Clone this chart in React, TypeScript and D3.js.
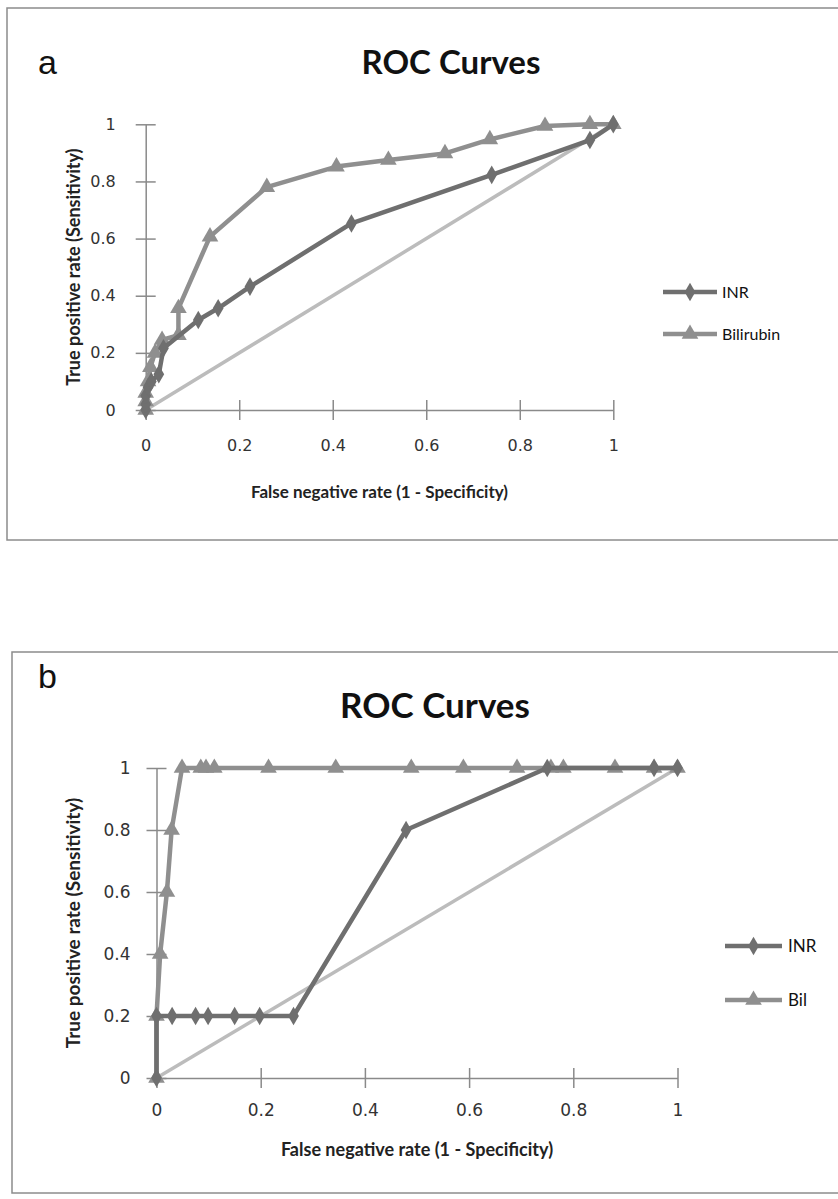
import React, { useEffect, useRef } from "react";
import * as d3 from "d3";

// shared ticks
const tickValues = [0, 0.2, 0.4, 0.6, 0.8, 1];
const tickLabels = ["0", "0.2", "0.4", "0.6", "0.8", "1"];

// panel a
const aInrFpr = [0, 0, 0, 0.005, 0.012, 0.028, 0.038, 0.1125, 0.155, 0.223, 0.44, 0.74, 0.95, 1];
const aInrTpr = [0, 0.02, 0.05, 0.08, 0.1, 0.125, 0.216, 0.315, 0.356, 0.432, 0.653, 0.823, 0.945, 1];
const aBilFpr = [0, 0, 0, 0.005, 0.01, 0.02, 0.035, 0.07, 0.07, 0.1375, 0.259, 0.408, 0.519, 0.64, 0.736, 0.854, 0.95, 1];
const aBilTpr = [0, 0.03, 0.06, 0.1, 0.15, 0.2, 0.245, 0.262, 0.356, 0.607, 0.78, 0.852, 0.875, 0.898, 0.947, 0.994, 1, 1];

// panel b
const bInrFpr = [0, 0, 0.03, 0.075, 0.099, 0.15, 0.198, 0.263, 0.479, 0.75, 0.955, 1];
const bInrTpr = [0, 0.2, 0.2, 0.2, 0.2, 0.2, 0.2, 0.2, 0.8, 1, 1, 1];
const bBilFpr = [0, 0, 0.007, 0.02, 0.029, 0.049, 0.085, 0.095, 0.111, 0.215, 0.344, 0.489, 0.589, 0.692, 0.757, 0.781, 0.88, 0.955, 1];
const bBilTpr = [0, 0.2, 0.4, 0.6, 0.8, 1, 1, 1, 1, 1, 1, 1, 1, 1, 1, 1, 1, 1, 1];

const INR_COLOR = "#6f6f6f";
const BIL_COLOR = "#8f8f8f";
const DIAG_COLOR = "#bcbcbc";
const AXIS_COLOR = "#8a8a8a";

const zip = (xs, ys) => xs.map((x, i) => ({ x, y: ys[i] }));

const panels = [
  {
    letter: "a",
    frame: { x: 7, y: 8, w: 900, h: 532 },
    plot: { left: 145.7, right: 613.3, top: 124.3, bottom: 410 },
    title: { x: 451, y: 74, size: 33 },
    letterPos: { x: 38, y: 74 },
    yTitleX: 80,
    xTitleY: 498,
    font: 16,
    pad: 20,
    xTitle: 17,
    yTitle: 18,
    legendFont: 16,
    legend: { x1: 663, x2: 717, tx: 722, y: [292, 334] },
    series: [
      { name: "INR", data: zip(aInrFpr, aInrTpr), color: INR_COLOR, shape: d3.symbolDiamond },
      { name: "Bilirubin", data: zip(aBilFpr, aBilTpr), color: BIL_COLOR, shape: d3.symbolTriangle }
    ]
  },
  {
    letter: "b",
    frame: { x: 12, y: 652, w: 900, h: 541 },
    plot: { left: 156.5, right: 677.5, top: 768, bottom: 1078 },
    title: { x: 435, y: 718, size: 35 },
    letterPos: { x: 38, y: 688 },
    yTitleX: 80,
    xTitleY: 1156,
    font: 17,
    pad: 16,
    xTitle: 18,
    yTitle: 19,
    legendFont: 17,
    legend: { x1: 725, x2: 782, tx: 788, y: [946, 1000] },
    series: [
      { name: "INR", data: zip(bInrFpr, bInrTpr), color: INR_COLOR, shape: d3.symbolDiamond },
      { name: "Bil", data: zip(bBilFpr, bBilTpr), color: BIL_COLOR, shape: d3.symbolTriangle }
    ]
  }
];

function drawPanel(svg, p) {
  const g = svg.append("g");

  g.append("rect")
    .attr("x", p.frame.x)
    .attr("y", p.frame.y)
    .attr("width", p.frame.w)
    .attr("height", p.frame.h)
    .attr("fill", "white")
    .attr("stroke", "#8c8c8c")
    .attr("stroke-width", 1.5);

  g.append("text")
    .attr("x", p.letterPos.x)
    .attr("y", p.letterPos.y)
    .attr("font-family", "Liberation Sans, Arial, sans-serif")
    .attr("font-size", 34)
    .attr("fill", "#111")
    .text(p.letter);

  g.append("text")
    .attr("x", p.title.x)
    .attr("y", p.title.y)
    .attr("text-anchor", "middle")
    .attr("font-family", "Lato, sans-serif")
    .attr("font-weight", 700)
    .attr("font-size", p.title.size)
    .attr("fill", "#111")
    .text("ROC Curves");

  const x = d3.scaleLinear().domain([0, 1]).range([p.plot.left, p.plot.right]);
  const y = d3.scaleLinear().domain([0, 1]).range([p.plot.bottom, p.plot.top]);

  // axes with ticks crossing the axis line
  const yAxis = g.append("g")
    .attr("transform", `translate(${p.plot.left},0)`)
    .call(d3.axisLeft(y).tickValues(tickValues).tickFormat((d, i) => tickLabels[i]).tickSize(10).tickSizeOuter(0).tickPadding(p.pad));
  yAxis.selectAll("line").attr("x1", 10);

  const xAxis = g.append("g")
    .attr("transform", `translate(0,${p.plot.bottom})`)
    .call(d3.axisBottom(x).tickValues(tickValues).tickFormat((d, i) => tickLabels[i]).tickSize(10).tickSizeOuter(0).tickPadding(p.pad));
  xAxis.selectAll("line").attr("y1", -10);

  [xAxis, yAxis].forEach(ax => {
    ax.select(".domain").attr("stroke", AXIS_COLOR).attr("stroke-width", 1.5);
    ax.selectAll("line").attr("stroke", AXIS_COLOR).attr("stroke-width", 1.5);
    ax.selectAll("text")
      .attr("font-family", "DejaVu Sans, sans-serif")
      .attr("font-size", p.font)
      .attr("fill", "#333");
  });

  // axis titles
  g.append("text")
    .attr("transform", `translate(${p.yTitleX},${(p.plot.top + p.plot.bottom) / 2}) rotate(-90)`)
    .attr("text-anchor", "middle")
    .attr("font-family", "Lato, sans-serif")
    .attr("font-weight", 700)
    .attr("font-size", p.yTitle)
    .attr("fill", "#222")
    .text("True positive rate (Sensitivity)");

  g.append("text")
    .attr("x", (p.plot.left + p.plot.right) / 2)
    .attr("y", p.xTitleY)
    .attr("text-anchor", "middle")
    .attr("font-family", "Lato, sans-serif")
    .attr("font-weight", 700)
    .attr("font-size", p.xTitle)
    .attr("fill", "#222")
    .text("False negative rate (1 - Specificity)");

  const line = d3.line().x(d => x(d.x)).y(d => y(d.y));

  // chance diagonal
  g.append("path")
    .datum([{ x: 0, y: 0 }, { x: 1, y: 1 }])
    .attr("d", line)
    .attr("fill", "none")
    .attr("stroke", DIAG_COLOR)
    .attr("stroke-width", 3.5);

  // Bilirubin first so INR sits on top
  [...p.series].reverse().forEach(s => {
    g.append("path")
      .datum(s.data)
      .attr("d", line)
      .attr("fill", "none")
      .attr("stroke", s.color)
      .attr("stroke-width", 4.5)
      .attr("stroke-linejoin", "round");

    const sym = d3.symbol().type(s.shape).size(s.shape === d3.symbolDiamond ? 100 : 120);
    g.selectAll(null)
      .data(s.data)
      .enter()
      .append("path")
      .attr("d", sym)
      .attr("transform", d => `translate(${x(d.x)},${y(d.y)})`)
      .attr("fill", s.color);
  });

  // legend
  p.series.forEach((s, i) => {
    const ly = p.legend.y[i];
    g.append("line")
      .attr("x1", p.legend.x1)
      .attr("x2", p.legend.x2)
      .attr("y1", ly)
      .attr("y2", ly)
      .attr("stroke", s.color)
      .attr("stroke-width", 4.5);
    g.append("path")
      .attr("d", d3.symbol().type(s.shape).size(s.shape === d3.symbolDiamond ? 100 : 120))
      .attr("transform", `translate(${(p.legend.x1 + p.legend.x2) / 2},${ly})`)
      .attr("fill", s.color);
    g.append("text")
      .attr("x", p.legend.tx)
      .attr("y", ly)
      .attr("dy", "0.35em")
      .attr("font-family", "Lato, sans-serif")
      .attr("font-size", p.legendFont)
      .attr("fill", "#111")
      .text(s.name);
  });
}

export default function App() {
  const ref = useRef(null);

  useEffect(() => {
    const svg = d3.select(ref.current);
    svg.selectAll("*").remove();
    panels.forEach(p => drawPanel(svg, p));
  }, []);

  return (
    <svg
      ref={ref}
      width={838}
      height={1199}
      style={{ position: "absolute", left: 0, top: 0, background: "white" }}
    />
  );
}
